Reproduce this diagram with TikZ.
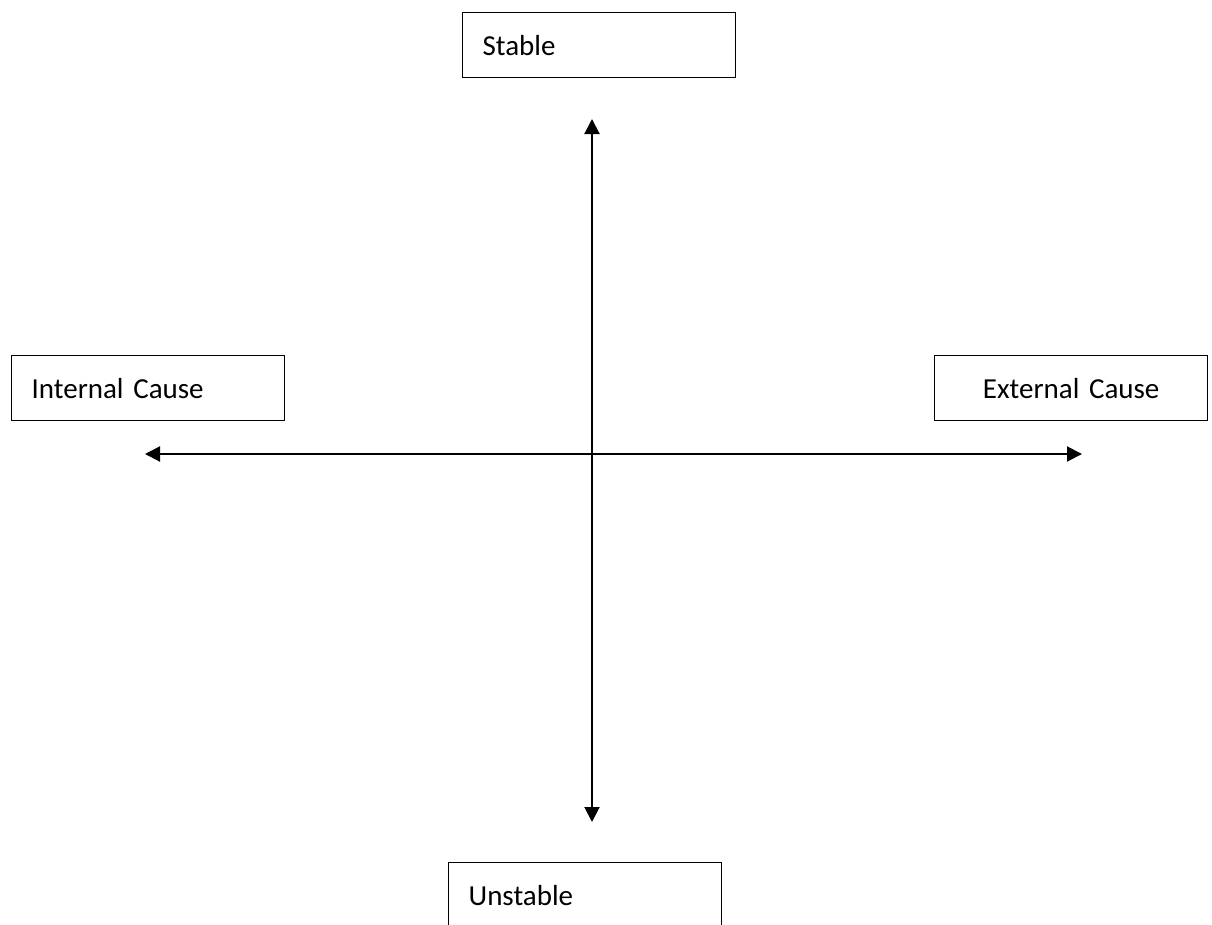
\documentclass[tikz,border=0pt]{standalone}
\usepackage{fontspec}
\setmainfont{Carlito}
\usetikzlibrary{arrows.meta}
\begin{document}
\begin{tikzpicture}[x=1pt,y=-1pt,
  labelbox/.style={draw=black, line width=1.3pt, rectangle, anchor=north west,
    text width=233pt, inner xsep=20pt, inner ysep=0pt, minimum height=65pt,
    font=\fontsize{29}{34}\selectfont, align=left},
  axis/.style={line width=2pt,
    {Triangle[length=15pt,width=15pt]}-{Triangle[length=15pt,width=15pt]}}]
  \useasboundingbox (0,0) rectangle (1212,924);
  \clip (0,0) rectangle (1212,924);

  % labelled boxes at the four ends of the axes
  \node[labelbox] (stable) at (462,12) {Stable};
  \node[labelbox] (internal) at (11,355) {Internal Cause};
  \node[labelbox, align=center] (external) at (934,355) {External Cause};
  \node[labelbox] (unstable) at (448,862) {Unstable};

  % axis end points
  \coordinate (ytop) at (592,119);
  \coordinate (ybot) at (592,822);
  \coordinate (xleft) at (145,454);
  \coordinate (xright) at (1082,454);

  % the two double-headed axes
  \draw[axis] (ytop) -- (ybot);
  \draw[axis] (xleft) -- (xright);
\end{tikzpicture}
\end{document}
